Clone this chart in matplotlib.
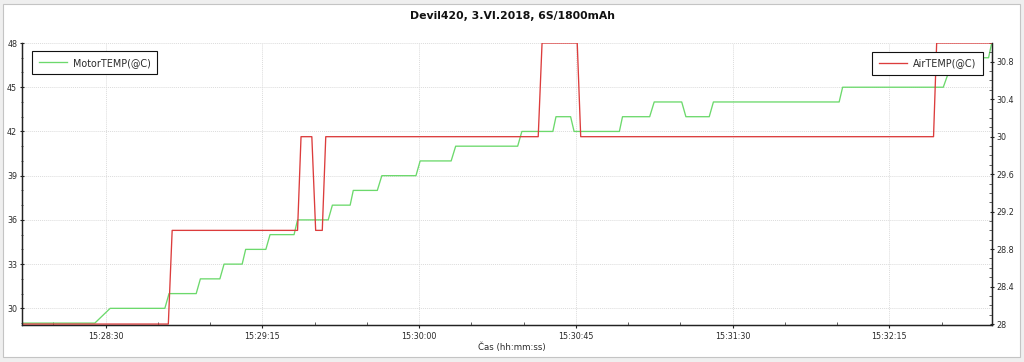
import matplotlib
matplotlib.use("Agg")
import matplotlib.pyplot as plt
import matplotlib.dates as mdates
from matplotlib.ticker import MultipleLocator, FixedLocator, FuncFormatter
from matplotlib.patches import FancyBboxPatch
import pandas as pd

# ---- data (seconds after 15:28:00 on 3.VI.2018) ----
base_time = "2018-06-03 15:28:00"
x_range_s = [5.9, 284.4]

motor_t_s = [5.9, 26.9, 31.3, 47.0, 48.2, 56.0, 57.2, 62.8, 64.0, 69.2, 70.2, 76.0, 77.2,
             84.1, 85.1, 93.9, 95.1, 100.2, 101.1, 108.0, 109.3, 119.1, 120.3, 129.2, 130.5,
             148.3, 149.5, 158.4, 159.3, 163.5, 164.5, 177.5, 178.4, 186.2, 187.5, 195.4,
             196.6, 203.3, 204.5, 240.6, 241.6, 270.5, 273.5, 283.5, 284.4]
motor_temp = [29, 29, 30, 30, 31, 31, 32, 32, 33, 33, 34, 34, 35,
              35, 36, 36, 37, 37, 38, 38, 39, 39, 40, 40, 41,
              41, 42, 42, 43, 43, 42, 42, 43, 43, 44, 44,
              43, 43, 44, 44, 45, 45, 47, 47, 48]

air_t_s = [5.9, 48.0, 49.1, 85.1, 86.1, 89.2, 90.3, 92.2, 93.2, 154.2, 155.3, 165.4,
           166.4, 267.7, 268.6, 284.4]
air_temp = [28, 28, 29, 29, 30, 30, 29, 29, 30, 30, 31, 31,
            30, 30, 31, 31]

x_tick_labels = ["15:28:30", "15:29:15", "15:30:00", "15:30:45", "15:31:30", "15:32:15"]
left_ticks = [30, 33, 36, 39, 42, 45, 48]
right_ticks = [28, 28.4, 28.8, 29.2, 29.6, 30, 30.4, 30.8]

title = "Devil420, 3.VI.2018, 6S/1800mAh"
xlabel = "Čas (hh:mm:ss)"
motor_label = "MotorTEMP(@C)"
air_label = "AirTEMP(@C)"

# ---- build ----
t0 = pd.Timestamp(base_time)
def to_dt(secs):
    return [t0 + pd.Timedelta(seconds=s) for s in secs]

motor_x = to_dt(motor_t_s)
air_x = to_dt(air_t_s)
xlim = to_dt(x_range_s)
xticks = [pd.Timestamp("2018-06-03 " + s) for s in x_tick_labels]

W, H = 1024, 362
fig = plt.figure(figsize=(W / 100, H / 100), dpi=100, facecolor="#efefef")
fig.patches.append(FancyBboxPatch((3 / W, 5 / H), 1017 / W, 353 / H,
                                  boxstyle="square,pad=0", transform=fig.transFigure,
                                  facecolor="white", edgecolor="#c4c4c4", linewidth=0.8,
                                  zorder=-10))

ax_l, ax_r, ax_t, ax_b = 21.7, 991.7, 43, 325
ax = fig.add_axes([ax_l / W, 1 - ax_b / H, (ax_r - ax_l) / W, (ax_b - ax_t) / H])
ax.set_facecolor("none")
ax2 = ax.twinx()

green = "#6cd96c"
red = "#dc3c3c"
l1, = ax.plot(motor_x, motor_temp, color=green, linewidth=0.95, label=motor_label)
l2, = ax2.plot(air_x, air_temp, color=red, linewidth=0.95, label=air_label)

ax.set_xlim(xlim)
ax.set_ylim(28.87, 48.0)
ax2.set_ylim(27.99, 31.0)

ax.xaxis.set_major_locator(FixedLocator(mdates.date2num(xticks)))
ax.xaxis.set_major_formatter(mdates.DateFormatter("%H:%M:%S"))
ax.xaxis.set_minor_locator(mdates.SecondLocator(bysecond=[0, 15, 30, 45]))

ax.yaxis.set_major_locator(FixedLocator(left_ticks))
ax.yaxis.set_minor_locator(MultipleLocator(1))
ax2.yaxis.set_major_locator(FixedLocator(right_ticks))
ax2.yaxis.set_minor_locator(MultipleLocator(0.1))
ax2.yaxis.set_major_formatter(FuncFormatter(lambda v, p: "%g" % round(v, 2)))

fs = 5.8
tc = "#2a2a2a"
ax.tick_params(axis="x", which="major", direction="out", length=2.5, width=0.8,
               labelsize=fs, colors="#222222", labelcolor=tc, pad=2.5)
ax.tick_params(axis="x", which="minor", direction="in", length=2.0, width=0.6, colors="#444444")
ax.tick_params(axis="y", which="major", direction="inout", length=3.5, width=0.8,
               labelsize=fs, colors="#222222", labelcolor=tc, pad=1.5)
ax.tick_params(axis="y", which="minor", direction="inout", length=2.0, width=0.6, colors="#444444")
ax2.tick_params(axis="y", which="major", direction="inout", length=3.5, width=0.8,
                labelsize=fs, colors="#222222", labelcolor=tc, pad=1.5)
ax2.tick_params(axis="y", which="minor", direction="in", length=2.0, width=0.6, colors="#444444")

for a in (ax, ax2):
    a.spines["top"].set_visible(False)
    for s in ("left", "right", "bottom"):
        a.spines[s].set_color("#222222")
        a.spines[s].set_linewidth(0.9)

ax.grid(True, which="major", axis="both", color="#dcdcdc", linestyle=(0, (1, 1)), linewidth=0.7)
ax.set_axisbelow(True)

fig.text(0.5, 1 - 16 / H, title, ha="center", va="center", fontsize=7.8,
         fontweight="bold", color="#111111")
fig.text(512 / W, 1 - 347 / H, xlabel, ha="center", va="center", fontsize=6.2, color=tc)

leg_kw = dict(fontsize=6.9, frameon=True, fancybox=False, framealpha=1, edgecolor="#111111",
              handlelength=2.9, handletextpad=0.65, borderpad=0.7, borderaxespad=0)
lg1 = ax2.legend([l1], [motor_label], loc="upper left",
                 bbox_to_anchor=((32 - ax_l) / (ax_r - ax_l), (ax_b - 51) / (ax_b - ax_t)), **leg_kw)
ax2.add_artist(lg1)
lg2 = ax2.legend([l2], [air_label], loc="upper right",
                 bbox_to_anchor=((983 - ax_l) / (ax_r - ax_l), (ax_b - 51.7) / (ax_b - ax_t)), **leg_kw)
for lg in (lg1, lg2):
    lg.get_frame().set_linewidth(0.8)
    for t in lg.get_texts():
        t.set_color(tc)

fig.savefig("out.png", dpi=100, facecolor=fig.get_facecolor())
